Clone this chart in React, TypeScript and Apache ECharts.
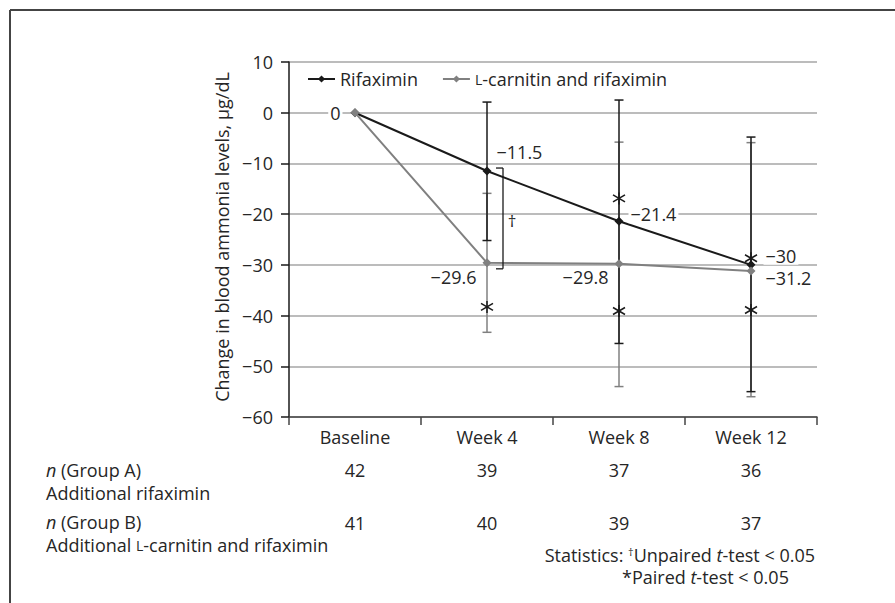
import React, { useEffect, useRef } from "react";
import * as echarts from "echarts";

const categories = ["Baseline", "Week 4", "Week 8", "Week 12"];
const rifaximin = [0, -11.5, -21.4, -30];
const combination = [0, -29.6, -29.8, -31.2];
// error bars: [categoryIndex, low, high]
const rifaximinErr = [
  [1, -25.2, 2.1],
  [2, -45.5, 2.5],
  [3, -55.0, -4.8],
];
const combinationErr = [
  [1, -43.3, -15.9],
  [2, -54.0, -5.8],
  [3, -56.0, -5.9],
];
// paired t-test asterisks: [categoryIndex, value]
const asterisks = [
  [1, -38.3],
  [2, -16.9],
  [2, -39.1],
  [3, -28.7],
  [3, -38.9],
];
// unpaired t-test bracket at Week 4: [categoryIndex, top, bottom]
const daggerBracket = [[1, -11.5, -29.6]];
const nGroupA = [42, 39, 37, 36];
const nGroupB = [41, 40, 39, 37];
const yTicks = { min: -60, max: 10, interval: 10 };

const FONT = "'Open Sans', 'Noto Sans', sans-serif";
const FS = 18;
const TEXT = "#262626";
const BLACK = "#1a1a1a";
const GRAY = "#808080";

const fmt = (v: number) => (v < 0 ? "\u2212" + Math.abs(v) : String(v));

export default function App() {
  const ref = useRef<HTMLDivElement>(null);
  useEffect(() => {
    if (!ref.current) return;
    const chart = echarts.init(ref.current, undefined, { renderer: "svg" });

    const errRender = (color: string) => (params: any, api: any) => {
      const x = api.value(0);
      const lo = api.coord([x, api.value(1)]);
      const hi = api.coord([x, api.value(2)]);
      const cw = 4.5;
      const st = { stroke: color, lineWidth: 1.5 };
      return {
        type: "group",
        children: [
          { type: "line", shape: { x1: lo[0], y1: lo[1], x2: hi[0], y2: hi[1] }, style: st },
          { type: "line", shape: { x1: lo[0] - cw, y1: lo[1], x2: lo[0] + cw, y2: lo[1] }, style: st },
          { type: "line", shape: { x1: hi[0] - cw, y1: hi[1], x2: hi[0] + cw, y2: hi[1] }, style: st },
        ],
      };
    };

    const labelRif = [
      { position: "left", distance: 8, offset: [0, 0], show: true },
      { position: "right", distance: 3, offset: [0, -19], show: true },
      { position: "right", distance: 5, offset: [0, -7], show: true },
      { position: "right", distance: 8, offset: [0, -9], show: true },
    ];
    const labelComb = [
      { show: false },
      { position: "left", distance: 4, offset: [0, 14], show: true },
      { position: "left", distance: 4, offset: [0, 13], show: true },
      { position: "right", distance: 8, offset: [0, 7], show: true },
    ];

    const labelBase = {
      fontFamily: FONT,
      fontSize: FS,
      color: TEXT,
      backgroundColor: "#fff",
      padding: [0, 2],
      formatter: (p: any) => fmt(p.value),
    };

    const option: any = {
      animation: false,
      textStyle: { fontFamily: FONT },
      grid: { left: 289, top: 62, right: 78, bottom: 186, containLabel: false },
      legend: {
        data: ["Rifaximin", "L-carnitin and rifaximin"],
        left: 302,
        top: 65,
        itemWidth: 27,
        itemHeight: 9,
        itemGap: 24,
        textStyle: {
          fontFamily: FONT,
          fontSize: FS,
          color: TEXT,
          rich: { sc: { fontFamily: FONT, fontSize: 14, color: TEXT } },
        },
        formatter: (name: string) => name.replace(/^L-/, "{sc|L}-"),
      },
      xAxis: {
        type: "category",
        data: categories,
        boundaryGap: true,
        axisLine: { onZero: false, lineStyle: { color: "#444", width: 1.5 } },
        axisTick: { show: true, length: 8, lineStyle: { color: "#444", width: 1.5 } },
        axisLabel: { fontFamily: FONT, fontSize: FS, color: TEXT, margin: 11 },
        splitLine: { show: false },
      },
      yAxis: {
        type: "value",
        min: yTicks.min,
        max: yTicks.max,
        interval: yTicks.interval,
        axisLine: { show: true, lineStyle: { color: BLACK, width: 1.5 } },
        axisTick: { show: true, length: 8, lineStyle: { color: BLACK, width: 1.5 } },
        axisLabel: {
          fontFamily: FONT,
          fontSize: FS,
          color: TEXT,
          margin: 16,
          formatter: (v: number) => fmt(v),
        },
        splitLine: { show: true, lineStyle: { color: "#a6a6a6", width: 1.5 } },
      },
      series: [
        {
          type: "custom",
          name: "combErr",
          renderItem: errRender(GRAY),
          data: combinationErr,
          encode: { x: 0, y: [1, 2] },
          itemStyle: { color: GRAY },
          z: 1,
          silent: true,
        },
        {
          type: "custom",
          name: "rifErr",
          renderItem: errRender(BLACK),
          data: rifaximinErr,
          encode: { x: 0, y: [1, 2] },
          itemStyle: { color: BLACK },
          z: 2,
          silent: true,
        },
        {
          type: "line",
          name: "Rifaximin",
          data: rifaximin.map((v, i) => ({ value: v, label: labelRif[i] })),
          color: BLACK,
          lineStyle: { color: BLACK, width: 2 },
          itemStyle: { color: BLACK },
          symbol: "diamond",
          symbolSize: 9,
          label: { ...labelBase },
          z: 3,
        },
        {
          type: "line",
          name: "L-carnitin and rifaximin",
          data: combination.map((v, i) => ({ value: v, label: labelComb[i] })),
          color: GRAY,
          lineStyle: { color: GRAY, width: 2 },
          itemStyle: { color: GRAY },
          symbol: "diamond",
          symbolSize: 9,
          label: { ...labelBase },
          z: 4,
        },
        {
          type: "custom",
          name: "asterisks",
          data: asterisks,
          encode: { x: 0, y: 1 },
          itemStyle: { color: BLACK },
          z: 5,
          silent: true,
          renderItem: (params: any, api: any) => {
            const p = api.coord([api.value(0), api.value(1)]);
            const st = { stroke: BLACK, lineWidth: 1.5 };
            return {
              type: "group",
              children: [
                { type: "line", shape: { x1: p[0], y1: p[1] - 6, x2: p[0], y2: p[1] + 6 }, style: st },
                { type: "line", shape: { x1: p[0] - 6, y1: p[1] - 3.5, x2: p[0] + 6, y2: p[1] + 3.5 }, style: st },
                { type: "line", shape: { x1: p[0] - 6, y1: p[1] + 3.5, x2: p[0] + 6, y2: p[1] - 3.5 }, style: st },
              ],
            };
          },
        },
        {
          type: "custom",
          name: "bracket",
          data: daggerBracket,
          encode: { x: 0, y: [1, 2] },
          itemStyle: { color: BLACK },
          z: 5,
          silent: true,
          renderItem: (params: any, api: any) => {
            const a = api.coord([api.value(0), api.value(1)]);
            const b = api.coord([api.value(0), api.value(2)]);
            const x = a[0] + 16;
            const y1 = a[1] - 3;
            const y2 = b[1] + 6;
            const st = { stroke: BLACK, lineWidth: 1.3 };
            return {
              type: "group",
              children: [
                { type: "line", shape: { x1: x, y1, x2: x, y2 }, style: st },
                { type: "line", shape: { x1: x - 7, y1, x2: x, y2: y1 }, style: st },
                { type: "line", shape: { x1: x - 7, y1: y2, x2: x, y2 }, style: st },
              ],
            };
          },
        },
        {
          type: "scatter",
          name: "dagger",
          data: daggerBracket.map((d) => [d[0], (d[1] + d[2]) / 2]),
          symbol: "circle",
          symbolSize: 1,
          itemStyle: { color: "rgba(0,0,0,0)" },
          silent: true,
          z: 6,
          label: {
            show: true,
            position: "inside",
            offset: [25, 4],
            formatter: "\u2020",
            fontFamily: FONT,
            fontSize: 17,
            color: TEXT,
            opacity: 1,
          },
        },
        {
          type: "custom",
          name: "counts",
          data: nGroupA.map((a, i) => [i, yTicks.min, a, nGroupB[i]]),
          encode: { x: 0, y: 1 },
          itemStyle: { color: TEXT },
          clip: false,
          silent: true,
          renderItem: (params: any, api: any) => {
            const p = api.coord([api.value(0), api.value(1)]);
            const mk = (t: string, dy: number) => ({
              type: "text",
              x: p[0],
              y: p[1] + dy,
              style: {
                text: t,
                fontFamily: FONT,
                fontSize: FS,
                fill: TEXT,
                align: "center",
                verticalAlign: "middle",
              },
            });
            return {
              type: "group",
              children: [mk(String(api.value(2)), 53), mk(String(api.value(3)), 106)],
            };
          },
        },
      ],
      graphic: [
        { type: "line", shape: { x1: 10, y1: 10, x2: 895, y2: 10 }, style: { stroke: "#444", lineWidth: 2 } },
        { type: "line", shape: { x1: 10, y1: 10, x2: 10, y2: 603 }, style: { stroke: "#444", lineWidth: 2 } },
        {
          type: "text",
          x: 222,
          y: 237,
          rotation: Math.PI / 2,
          style: {
            text: "Change in blood ammonia levels, \u00b5g/dL",
            fontFamily: FONT,
            fontSize: FS,
            fill: TEXT,
            align: "center",
            verticalAlign: "middle",
          },
        },
        {
          type: "text",
          x: 46,
          y: 470,
          style: {
            text: "{i|n} (Group A)",
            fontFamily: FONT,
            fontSize: FS,
            fill: TEXT,
            verticalAlign: "middle",
            rich: { i: { fontFamily: FONT, fontSize: FS, fontStyle: "italic", fill: TEXT } },
          },
        },
        {
          type: "text",
          x: 46,
          y: 493,
          style: { text: "Additional rifaximin", fontFamily: FONT, fontSize: FS, fill: TEXT, verticalAlign: "middle" },
        },
        {
          type: "text",
          x: 46,
          y: 522,
          style: {
            text: "{i|n} (Group B)",
            fontFamily: FONT,
            fontSize: FS,
            fill: TEXT,
            verticalAlign: "middle",
            rich: { i: { fontFamily: FONT, fontSize: FS, fontStyle: "italic", fill: TEXT } },
          },
        },
        {
          type: "text",
          x: 46,
          y: 545,
          style: {
            text: "Additional {sc|L}-carnitin and rifaximin",
            fontFamily: FONT,
            fontSize: FS,
            fill: TEXT,
            verticalAlign: "middle",
            rich: { sc: { fontFamily: FONT, fontSize: 14, fill: TEXT } },
          },
        },
        {
          type: "text",
          x: 815,
          y: 555,
          style: {
            text: "Statistics: {sup|\u2020}Unpaired {i|t}-test < 0.05",
            fontFamily: FONT,
            fontSize: FS,
            fill: TEXT,
            align: "right",
            verticalAlign: "middle",
            rich: {
              sup: { fontFamily: FONT, fontSize: 11, fill: TEXT, padding: [0, 0, 8, 0] },
              i: { fontFamily: FONT, fontSize: FS, fontStyle: "italic", fill: TEXT },
            },
          },
        },
        {
          type: "text",
          x: 622,
          y: 577,
          style: {
            text: "*Paired {i|t}-test < 0.05",
            fontFamily: FONT,
            fontSize: FS,
            fill: TEXT,
            align: "left",
            verticalAlign: "middle",
            rich: { i: { fontFamily: FONT, fontSize: FS, fontStyle: "italic", fill: TEXT } },
          },
        },
      ],
    };
    chart.setOption(option);
    return () => chart.dispose();
  }, []);
  return (
    <div
      ref={ref}
      style={{ position: "fixed", left: 0, top: 0, width: 895, height: 603, background: "#fff" }}
    />
  );
}
